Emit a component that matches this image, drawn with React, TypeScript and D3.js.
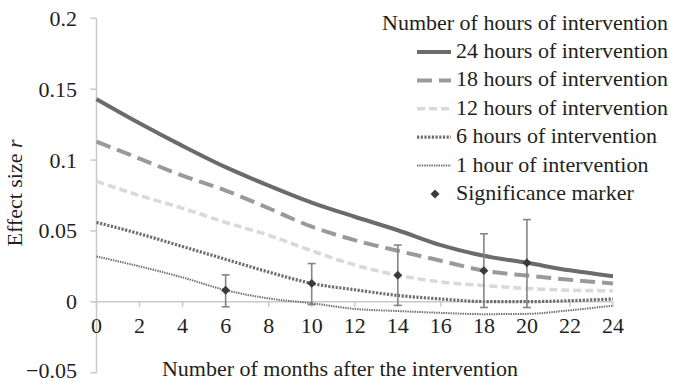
import React from "react";
import * as d3 from "d3";

// Months after the intervention at which the effect was modelled
const months = [0, 2, 4, 6, 8, 10, 12, 14, 16, 18, 20, 22, 24];

// Effect size r per dose (hours of intervention)
const r24 = [0.143, 0.126, 0.11, 0.095, 0.082, 0.07, 0.06, 0.0505, 0.04, 0.0325, 0.0275, 0.0222, 0.018];
const r18 = [0.113, 0.101, 0.089, 0.0785, 0.066, 0.053, 0.0435, 0.036, 0.029, 0.022, 0.0185, 0.0155, 0.013];
const r12 = [0.085, 0.075, 0.066, 0.056, 0.047, 0.036, 0.026, 0.0188, 0.014, 0.0115, 0.0094, 0.0082, 0.0078];
const r6 = [0.056, 0.048, 0.039, 0.03, 0.021, 0.013, 0.0085, 0.0045, 0.002, 0.0002, 0.0001, 0.0008, 0.002];
const r1 = [0.032, 0.025, 0.0172, 0.0082, 0.0024, -0.001, -0.005, -0.0065, -0.0078, -0.0087, -0.0085, -0.006, -0.0027];

// Significance markers with their intervals
const sigMonths = [6, 10, 14, 18, 20];
const sigValues = [0.0082, 0.013, 0.0188, 0.022, 0.0275];
const sigLow = [-0.0035, -0.002, -0.0025, -0.004, -0.004];
const sigHigh = [0.019, 0.027, 0.04, 0.048, 0.058];

const xTicks = [0, 2, 4, 6, 8, 10, 12, 14, 16, 18, 20, 22, 24];
const yTicks = [-0.05, 0, 0.05, 0.1, 0.15, 0.2];
const yTickLabels = ["\u22120.05", "0", "0.05", "0.1", "0.15", "0.2"];

const seriesLabels = [
  "24 hours of intervention",
  "18 hours of intervention",
  "12 hours of intervention",
  "6 hours of intervention",
  "1 hour of intervention",
];

const FONT = "'Liberation Serif', 'Times New Roman', serif";
const TEXT = "#231f20";
const AXIS = "#c9c9c9";

const seriesStyles = [
  { stroke: "#6b6b6b", width: 4, dash: undefined as string | undefined },
  { stroke: "#9a9a9a", width: 4, dash: "15 7" },
  { stroke: "#d9d9d9", width: 3.6, dash: "8 4" },
  { stroke: "#6e6e6e", width: 3.2, dash: "2.2 1.5" },
  { stroke: "#6e6e6e", width: 2, dash: "1.4 1" },
];

// Square diamond marker (a square turned 45 degrees)
const diamond = d3.symbol().type(d3.symbolSquare).size(40)() as string;

export default function App() {
  const width = 674;
  const height = 382;
  const x = d3.scaleLinear().domain([0, 24]).range([96.5, 613]);
  const y = d3.scaleLinear().domain([-0.05, 0.2]).range([372.7, 18.3]);

  const series = [r24, r18, r12, r6, r1];
  const line = d3
    .line<number>()
    .x((_, i) => x(months[i]))
    .y((d) => y(d))
    .curve(d3.curveMonotoneX);

  const legendY = (i: number) => 52 + i * 28.4;

  return (
    <svg
      width={width}
      height={height}
      style={{ position: "absolute", left: 0, top: 0, background: "#fff" }}
      fontFamily={FONT}
    >
      <rect width={width} height={height} fill="#fff" />

      {/* y axis */}
      <line x1={x(0)} x2={x(0)} y1={y(0.2)} y2={y(-0.05)} stroke={AXIS} strokeWidth={1.5} />
      {yTicks.map((t, i) => (
        <g key={t}>
          <line x1={x(0) - 6} x2={x(0)} y1={y(t)} y2={y(t)} stroke={AXIS} strokeWidth={1.5} />
          <text
            x={77}
            y={Math.min(y(t) + 7.5, 377.5)}
            textAnchor="end"
            fontSize={22}
            fill={TEXT}
          >
            {yTickLabels[i]}
          </text>
        </g>
      ))}

      {/* x axis at r = 0 */}
      <line x1={x(0)} x2={x(24)} y1={y(0)} y2={y(0)} stroke={AXIS} strokeWidth={1.5} />
      {xTicks.map((t) => (
        <g key={t}>
          <line x1={x(t)} x2={x(t)} y1={y(0)} y2={y(0) + 5} stroke={AXIS} strokeWidth={1.5} />
          <text x={x(t)} y={333} textAnchor="middle" fontSize={22} fill={TEXT}>
            {t}
          </text>
        </g>
      ))}

      {/* axis titles */}
      <text x={340} y={376} textAnchor="middle" fontSize={22} fill={TEXT}>
        Number of months after the intervention
      </text>
      <text
        transform={`translate(22, 193) rotate(-90)`}
        textAnchor="middle"
        fontSize={22}
        fill={TEXT}
      >
        Effect size <tspan fontStyle="italic">r</tspan>
      </text>

      {/* dose curves */}
      {series.map((s, i) => (
        <path
          key={i}
          d={line(s) || ""}
          fill="none"
          stroke={seriesStyles[i].stroke}
          strokeWidth={seriesStyles[i].width}
          strokeDasharray={seriesStyles[i].dash}
        />
      ))}

      {/* significance markers with intervals */}
      {sigMonths.map((m, i) => (
        <g key={m}>
          <line x1={x(m)} x2={x(m)} y1={y(sigLow[i])} y2={y(sigHigh[i])} stroke="#858585" strokeWidth={1.6} />
          <line x1={x(m) - 4} x2={x(m) + 4} y1={y(sigHigh[i])} y2={y(sigHigh[i])} stroke="#858585" strokeWidth={1.6} />
          <line x1={x(m) - 4} x2={x(m) + 4} y1={y(sigLow[i])} y2={y(sigLow[i])} stroke="#858585" strokeWidth={1.6} />
          <path
            d={diamond}
            transform={`translate(${x(m)},${y(sigValues[i])}) rotate(45)`}
            fill="#3a3a3a"
          />
        </g>
      ))}

      {/* legend */}
      <text x={382} y={30} fontSize={22} fill={TEXT}>
        Number of hours of intervention
      </text>
      {seriesLabels.map((lab, i) => (
        <g key={lab}>
          <line
            x1={417}
            x2={451}
            y1={legendY(i)}
            y2={legendY(i)}
            stroke={seriesStyles[i].stroke}
            strokeWidth={seriesStyles[i].width}
            strokeDasharray={seriesStyles[i].dash}
          />
          <text x={456} y={legendY(i) + 6} fontSize={22} fill={TEXT}>
            {lab}
          </text>
        </g>
      ))}
      <path d={diamond} transform={`translate(435,${legendY(5)}) rotate(45)`} fill="#3a3a3a" />
      <text x={456} y={legendY(5) + 6} fontSize={22} fill={TEXT}>
        Significance marker
      </text>
    </svg>
  );
}
